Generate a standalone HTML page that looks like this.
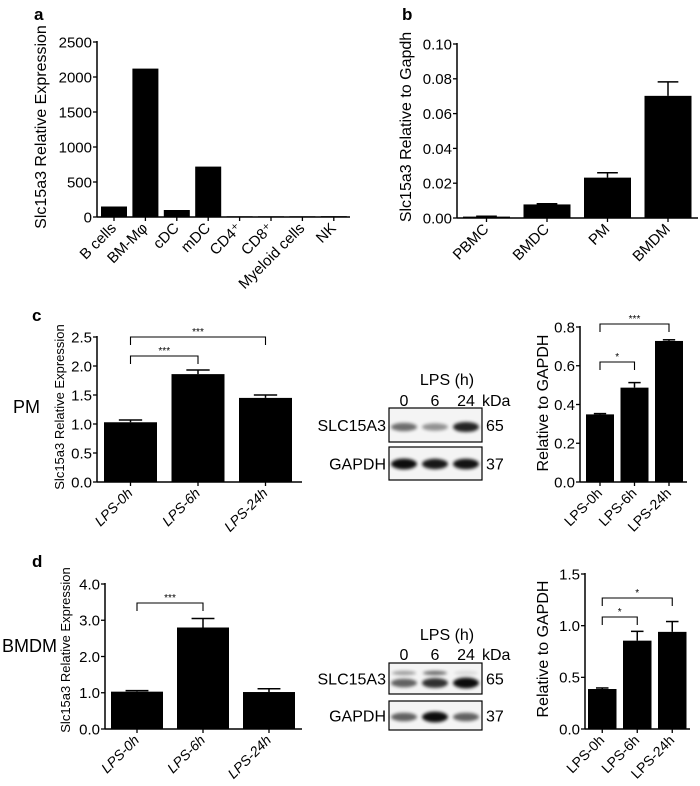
<!DOCTYPE html>
<html><head><meta charset="utf-8"><style>
html,body{margin:0;padding:0;background:#fff;}
svg{display:block;font-family:"Liberation Sans",Arial,sans-serif;}
</style></head><body>
<svg id="fig" width="700" height="786" viewBox="0 0 700 786" xmlns="http://www.w3.org/2000/svg">
<defs>
<filter id="blur" x="-50%" y="-100%" width="200%" height="300%"><feGaussianBlur stdDeviation="1.6"/></filter>
</defs>
<text x="34" y="20" font-size="17" font-weight="bold">a</text>
<text x="402" y="20" font-size="17" font-weight="bold">b</text>
<text x="32" y="321" font-size="17" font-weight="bold">c</text>
<text x="32" y="567" font-size="17" font-weight="bold">d</text>
<text x="13" y="413" font-size="18">PM</text>
<text x="2" y="652" font-size="18">BMDM</text>
</svg>
<script>
// ---- Panel a data ----
const aCategories = ["B cells","BM-M\u03c6","cDC","mDC","CD4\u207a","CD8\u207a","Myeloid cells","NK"];
const aValues = [150, 2120, 100, 720, 10, 10, 10, 12];
const aTicks = [0, 500, 1000, 1500, 2000, 2500];
const aTickLabels = ["0","500","1000","1500","2000","2500"];
// ---- Panel b data ----
const bCategories = ["PBMC","BMDC","PM","BMDM"];
const bValues = [0.0008, 0.0078, 0.0232, 0.0702];
const bErrors = [0.0002, 0.0004, 0.0028, 0.0080];
const bTicks = [0, 0.02, 0.04, 0.06, 0.08, 0.10];
const bTickLabels = ["0.00","0.02","0.04","0.06","0.08","0.10"];
// ---- Panel c left ----
const cCategories = ["LPS-0h","LPS-6h","LPS-24h"];
const cValues = [1.03, 1.86, 1.45];
const cErrors = [0.04, 0.07, 0.05];
const cTicks = [0, 0.5, 1.0, 1.5, 2.0, 2.5];
const cTickLabels = ["0.0","0.5","1.0","1.5","2.0","2.5"];
// ---- Panel c right ----
const crValues = [0.349, 0.487, 0.728];
const crErrors = [0.004, 0.026, 0.006];
const crTicks = [0, 0.2, 0.4, 0.6, 0.8];
const crTickLabels = ["0.0","0.2","0.4","0.6","0.8"];
// ---- Panel d left ----
const dValues = [1.03, 2.80, 1.02];
const dErrors = [0.03, 0.25, 0.09];
const dTicks = [0, 1, 2, 3, 4];
const dTickLabels = ["0.0","1.0","2.0","3.0","4.0"];
// ---- Panel d right ----
const drValues = [0.387, 0.855, 0.94];
const drErrors = [0.01, 0.09, 0.10];
const drTicks = [0, 0.5, 1.0, 1.5];
const drTickLabels = ["0.0","0.5","1.0","1.5"];

const NS = "http://www.w3.org/2000/svg";
const svg = document.getElementById("fig");
function mk(tag, attrs, parent) {
  const e = document.createElementNS(NS, tag);
  for (const k in attrs) e.setAttribute(k, attrs[k]);
  (parent || svg).appendChild(e);
  return e;
}

function chart(o) {
  const g = mk("g", {});
  
  
  const yS = v => o.y0 - (v / o.yMax) * (o.y0 - o.yTop);
  const xC = i => o.firstLeft + i * o.spacing + o.width / 2;
  o.values.forEach((v, i) => {
    const top = yS(v);
    const r = mk("rect", {x: xC(i) - o.width / 2, y: top, width: o.width, height: Math.max(o.y0 - top, 0.8), fill: "#000"}, g);
    
    
    if (o.errors) {
      const ey = yS(v + o.errors[i]);
      const l = mk("line", {x1: xC(i), x2: xC(i), y1: top, y2: ey, stroke: "#000", "stroke-width": 1.5}, g);
      
      
      const c = mk("line", {x1: xC(i) - o.width * 0.22, x2: xC(i) + o.width * 0.22, y1: ey, y2: ey, stroke: "#000", "stroke-width": 1.5}, g);
      
      
    }
  });
  const ya = mk("line", {x1: o.x0, x2: o.x0, y1: o.yTop - 1, y2: o.y0, stroke: "#000", "stroke-width": 1.5}, g);
  
  
  o.ticks.forEach((t, i) => {
    const y = yS(t);
    mk("line", {x1: o.x0 - 4, x2: o.x0, y1: y, y2: y, stroke: "#000", "stroke-width": 1.3}, g);
    const tx = mk("text", {x: o.x0 - 5, y: y + o.tf * 0.36, "font-size": o.tf, "text-anchor": "end"}, g);
    tx.textContent = o.tickLabels[i];
    
    
  });
  const xa = mk("line", {x1: o.x0, x2: o.axisEnd, y1: o.y0, y2: o.y0, stroke: "#000", "stroke-width": 1.5}, g);
  
  
  o.cats.forEach((c, i) => {
    const x = xC(i);
    mk("line", {x1: x, x2: x, y1: o.y0, y2: o.y0 + 4, stroke: "#000", "stroke-width": 1.3}, g);
    const tx = mk("text", {x: x + 3, y: o.y0 + 12, "font-size": o.xf, "text-anchor": "end",
      transform: "rotate(-45 " + (x + 3) + " " + (o.y0 + 12) + ")", "font-style": o.italic ? "italic" : "normal"}, g);
    tx.textContent = c;
    
    
  });
  const yt = mk("text", {x: o.ylx, y: o.yly, "font-size": o.ylf, "text-anchor": "middle",
    transform: "rotate(-90 " + o.ylx + " " + o.yly + ")"}, g);
  yt.textContent = o.ylabel;
  
  
  (o.brackets || []).forEach(b => {
    const x1 = xC(b.a), x2 = xC(b.b);
    const p = mk("path", {d: "M" + x1 + " " + (b.top + 8) + " V" + b.top + " H" + x2 + " V" + (b.top + 8), fill: "none", stroke: "#000", "stroke-width": 1.1}, g);
    
    
    const s = mk("text", {x: (x1 + x2) / 2, y: b.top - 2, "font-size": 10, "text-anchor": "middle"}, g);
    s.textContent = b.s;
    
    
  });
}

chart({name: "panel-a-chart", cats: aCategories, values: aValues, ticks: aTicks, tickLabels: aTickLabels,
  x0: 97, y0: 217, yTop: 42, yMax: 2500, firstLeft: 101, spacing: 31.4, width: 26, axisEnd: 350,
  tf: 15, xf: 15, ylabel: "Slc15a3 Relative Expression", ylx: 46, yly: 127, ylf: 16});
chart({name: "panel-b-chart", cats: bCategories, values: bValues, errors: bErrors, ticks: bTicks, tickLabels: bTickLabels,
  x0: 457, y0: 218, yTop: 44, yMax: 0.10, firstLeft: 463, spacing: 60.5, width: 47, axisEnd: 698,
  tf: 15, xf: 15, ylabel: "Slc15a3 Relative to Gapdh", ylx: 411, yly: 127, ylf: 16});
chart({name: "panel-c-left-chart", cats: cCategories, values: cValues, errors: cErrors, ticks: cTicks, tickLabels: cTickLabels,
  x0: 97, y0: 482, yTop: 337, yMax: 2.5, firstLeft: 104, spacing: 67.5, width: 53, axisEnd: 302,
  tf: 15, xf: 14, italic: true, ylabel: "Slc15a3 Relative Expression", ylx: 64, yly: 407, ylf: 13,
  brackets: [{a: 0, b: 2, top: 337, s: "***"}, {a: 0, b: 1, top: 356, s: "***"}]});
chart({name: "panel-c-right-chart", cats: cCategories, values: crValues, errors: crErrors, ticks: crTicks, tickLabels: crTickLabels,
  x0: 580, y0: 482, yTop: 327, yMax: 0.8, firstLeft: 586, spacing: 34.5, width: 28, axisEnd: 687,
  tf: 15, xf: 14, ylabel: "Relative to GAPDH", ylx: 548, yly: 403, ylf: 16,
  brackets: [{a: 0, b: 2, top: 324, s: "***"}, {a: 0, b: 1, top: 362, s: "*"}]});
chart({name: "panel-d-left-chart", cats: cCategories, values: dValues, errors: dErrors, ticks: dTicks, tickLabels: dTickLabels,
  x0: 105, y0: 729, yTop: 584, yMax: 4, firstLeft: 111, spacing: 66, width: 52, axisEnd: 302,
  tf: 15, xf: 14, italic: true, ylabel: "Slc15a3 Relative Expression", ylx: 70, yly: 650, ylf: 13,
  brackets: [{a: 0, b: 1, top: 603, s: "***"}]});
chart({name: "panel-d-right-chart", cats: cCategories, values: drValues, errors: drErrors, ticks: drTicks, tickLabels: drTickLabels,
  x0: 585, y0: 729, yTop: 574, yMax: 1.5, firstLeft: 588, spacing: 35, width: 28.5, axisEnd: 690,
  tf: 15, xf: 14, ylabel: "Relative to GAPDH", ylx: 548, yly: 649, ylf: 16,
  brackets: [{a: 0, b: 2, top: 598, s: "*"}, {a: 0, b: 1, top: 617, s: "*"}]});

// ---- Western blots ----
const laneX = [404, 435, 466];
const cSlcIntensity = [0.55, 0.4, 0.85];
const cGapdhIntensity = [0.95, 0.9, 0.92];
const dSlcIntensity = [0.6, 0.8, 0.95];
const dSlcUpper = [0.35, 0.55, 0.1];
const dGapdhIntensity = [0.6, 0.95, 0.6];

function blot(name, top, h, bandY, intens, upper, upperY, label, kda) {
  const g = mk("g", {});
  
  
  const box = mk("rect", {x: 389, y: top, width: 93, height: h, fill: "#f4f4f4", stroke: "#000", "stroke-width": 1.2}, g);
  
  
  intens.forEach((v, i) => {
    const b = mk("ellipse", {cx: laneX[i], cy: bandY, rx: 13, ry: 2.5 + 3 * v, fill: "#000", opacity: v, filter: "url(#blur)"}, g);
    
    
    if (upper) {
      const u = mk("ellipse", {cx: laneX[i], cy: upperY, rx: 12, ry: 2.2, fill: "#000", opacity: upper[i], filter: "url(#blur)"}, g);
      
      
    }
  });
  const l = mk("text", {x: 386, y: top + h / 2 + 6, "font-size": 16, "text-anchor": "end"}, g);
  l.textContent = label;
  
  
  const k = mk("text", {x: 486, y: top + h / 2 + 6, "font-size": 16}, g);
  k.textContent = kda;
  
  
}
function blotHeader(prefix, y1, y2) {
  const t = mk("text", {x: 447, y: y1, "font-size": 16, "text-anchor": "middle"});
  t.textContent = "LPS (h)";
  
  
  ["0", "6", "24"].forEach((s, i) => {
    const e = mk("text", {x: laneX[i], y: y2, "font-size": 16, "text-anchor": "middle"});
    e.textContent = s;
    
    
  });
  const k = mk("text", {x: 482, y: y2, "font-size": 16});
  k.textContent = "kDa";
  
  
}
blotHeader("c", 385, 406);
blot("c-slc15a3-blot", 408, 34, 427, cSlcIntensity, null, 0, "SLC15A3", "65");
blot("c-gapdh-blot", 447, 33, 464, cGapdhIntensity, null, 0, "GAPDH", "37");
blotHeader("d", 640, 660);
blot("d-slc15a3-blot", 663, 31, 683, dSlcIntensity, dSlcUpper, 673, "SLC15A3", "65");
blot("d-gapdh-blot", 701, 29, 717, dGapdhIntensity, null, 0, "GAPDH", "37");
</script>
</body></html>
